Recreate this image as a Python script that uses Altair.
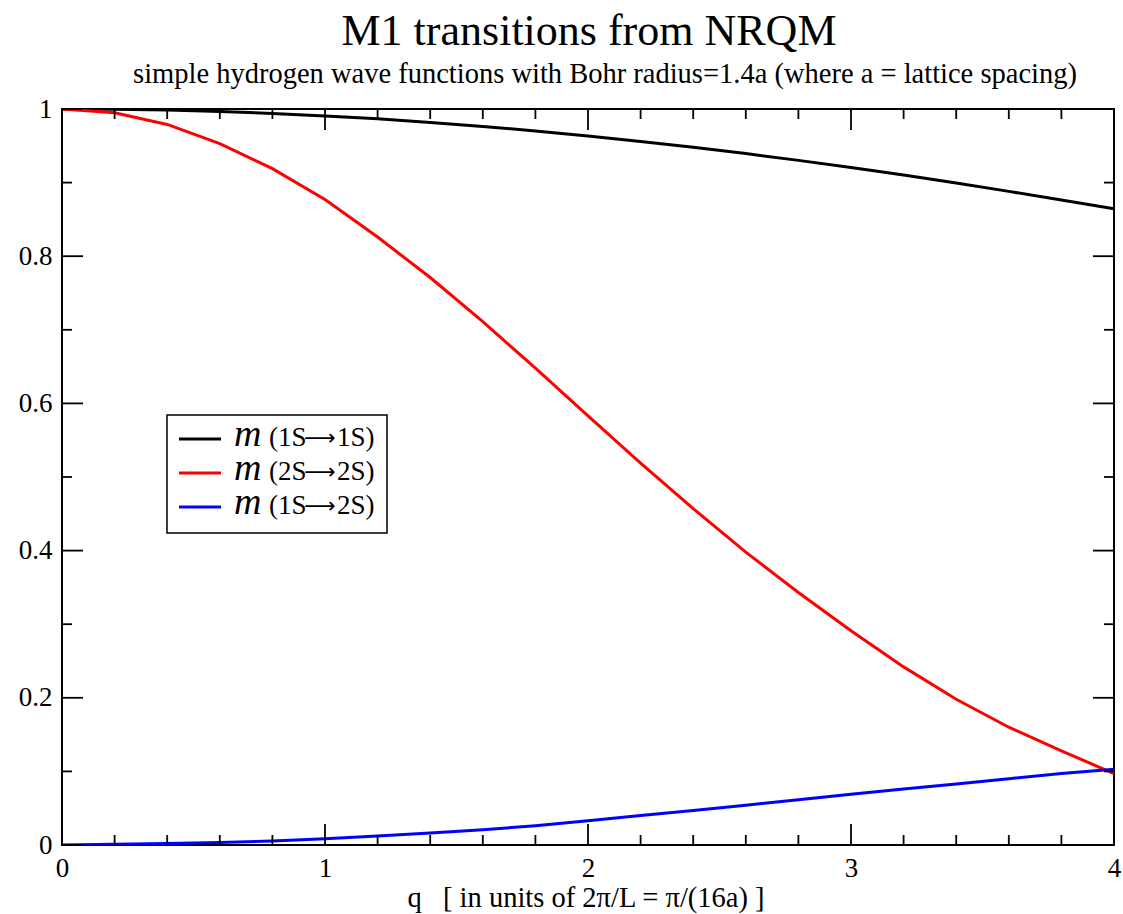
import altair as alt
import pandas as pd

# ---- data ----
q_vals = [0.0, 0.2, 0.4, 0.6, 0.8, 1.0, 1.2, 1.4, 1.6, 1.8, 2.0,
          2.2, 2.4, 2.6, 2.8, 3.0, 3.2, 3.4, 3.6, 3.8, 4.0]
m_1s1s = [1.0, 0.9996, 0.9985, 0.9966, 0.9940, 0.9906, 0.9866, 0.9818, 0.9763, 0.9702, 0.9634,
          0.9560, 0.9480, 0.9394, 0.9302, 0.9205, 0.9102, 0.8994, 0.8881, 0.8764, 0.8643]
m_2s2s = [1.0, 0.995, 0.979, 0.953, 0.919, 0.877, 0.826, 0.771, 0.711, 0.648, 0.583,
          0.519, 0.457, 0.398, 0.343, 0.291, 0.242, 0.198, 0.160, 0.128, 0.097]
m_1s2s = [0.0, 0.0009, 0.0019, 0.0034, 0.0056, 0.0085, 0.0121, 0.0162, 0.0208, 0.0262, 0.033,
          0.040, 0.047, 0.054, 0.0615, 0.069, 0.076, 0.083, 0.090, 0.097, 0.103]

series_from = ["(1S", "(2S", "(1S"]
series_to = ["1S)", "2S)", "2S)"]
series_colors = ["#000000", "#ff0000", "#0000ff"]

x_major = [0, 1, 2, 3, 4]
x_minor = [0.2, 0.4, 0.6, 0.8, 1.2, 1.4, 1.6, 1.8, 2.2, 2.4, 2.6, 2.8,
           3.2, 3.4, 3.6, 3.8]
y_major = [0, 0.2, 0.4, 0.6, 0.8, 1.0]
y_minor = [0.1, 0.3, 0.5, 0.7, 0.9]

TITLE = "M1 transitions from NRQM"
SUBTITLE = "simple hydrogen wave functions with Bohr radius=1.4a (where a = lattice spacing)"
XTITLE = "q\u00a0\u00a0\u00a0[ in units of 2\u03c0/L = \u03c0/(16a) ]"

# ---- layout ----
W, H = 1052, 736
FONT = "Liberation Serif"
MAJ, MIN = 21, 10

xscale = alt.Scale(domain=[0, 4], nice=False, zero=False)
yscale = alt.Scale(domain=[0, 1], nice=False, zero=False)

xaxis = alt.Axis(values=x_major, format="~g", ticks=False, tickSize=0, domain=False,
                 grid=False, labelFont=FONT, labelFontSize=27, labelColor="black",
                 labelPadding=10, labelFlush=False, labelOverlap=False, title=None)
yaxis = alt.Axis(values=y_major, format="~g", ticks=False, tickSize=0, domain=False,
                 grid=False, labelFont=FONT, labelFontSize=27, labelColor="black",
                 labelPadding=10, labelFlush=False, labelOverlap=False, title=None)

X = alt.X("q:Q", scale=xscale, axis=xaxis)
Y = alt.Y("v:Q", scale=yscale, axis=yaxis)

layers = []

# curves
for vals, col in zip([m_1s1s, m_2s2s, m_1s2s], series_colors):
    df = pd.DataFrame({"q": q_vals, "v": vals})
    layers.append(alt.Chart(df).mark_line(color=col, strokeWidth=3, clip=True).encode(x=X, y=Y))

# ticks (inward, mirrored)
xt_maj = pd.DataFrame({"q": x_major})
xt_min = pd.DataFrame({"q": x_minor})
yt_maj = pd.DataFrame({"v": y_major})
yt_min = pd.DataFrame({"v": y_minor})
tick_style = dict(color="black", strokeWidth=1.8)
for d, L in [(xt_maj, MAJ), (xt_min, MIN)]:
    layers.append(alt.Chart(d).mark_rule(**tick_style).encode(x=X, y=alt.value(H), y2=alt.value(H - L)))
    layers.append(alt.Chart(d).mark_rule(**tick_style).encode(x=X, y=alt.value(0), y2=alt.value(L)))
for d, L in [(yt_maj, MAJ), (yt_min, MIN)]:
    layers.append(alt.Chart(d).mark_rule(**tick_style).encode(y=Y, x=alt.value(0), x2=alt.value(L)))
    layers.append(alt.Chart(d).mark_rule(**tick_style).encode(y=Y, x=alt.value(W), x2=alt.value(W - L)))

# legend box
one = pd.DataFrame({"k": [0]})
layers.append(alt.Chart(one).mark_rect(fill="white", stroke="black", strokeWidth=1.5).encode(
    x=alt.value(105), x2=alt.value(325), y=alt.value(306), y2=alt.value(424)))
row_y = [330, 364, 398]
for a, b, col, ry in zip(series_from, series_to, series_colors, row_y):
    layers.append(alt.Chart(one).mark_rule(color=col, strokeWidth=3).encode(
        x=alt.value(117), x2=alt.value(159), y=alt.value(ry)))
    layers.append(alt.Chart(one).mark_text(font=FONT, fontSize=38, fontStyle="italic",
                                            align="left", baseline="alphabetic", color="black").encode(
        x=alt.value(172), y=alt.value(ry + 7), text=alt.value("m")))
    layers.append(alt.Chart(one).mark_text(font=FONT, fontSize=27,
                                            align="left", baseline="alphabetic", color="black").encode(
        x=alt.value(207), y=alt.value(ry + 7), text=alt.value(a)))
    layers.append(alt.Chart(one).mark_text(font="DejaVu Sans", fontSize=22,
                                            align="center", baseline="middle", color="black").encode(
        x=alt.value(258), y=alt.value(ry - 1), text=alt.value("\u27f6")))
    layers.append(alt.Chart(one).mark_text(font=FONT, fontSize=27,
                                            align="left", baseline="alphabetic", color="black").encode(
        x=alt.value(275), y=alt.value(ry + 7), text=alt.value(b)))

# titles
layers.append(alt.Chart(one).mark_text(font=FONT, fontSize=44, align="center",
                                        baseline="alphabetic", color="black").encode(
    x=alt.value(527), y=alt.value(-64), text=alt.value(TITLE)))
layers.append(alt.Chart(one).mark_text(font=FONT, fontSize=28.5, align="center",
                                        baseline="alphabetic", color="black").encode(
    x=alt.value(543), y=alt.value(-26), text=alt.value(SUBTITLE)))
layers.append(alt.Chart(one).mark_text(font=FONT, fontSize=28.5, align="center",
                                        baseline="alphabetic", color="black").encode(
    x=alt.value(524), y=alt.value(H + 62), text=alt.value(XTITLE)))

chart = alt.layer(*layers).properties(
    width=W, height=H,
    autosize=alt.AutoSizeParams(type="none"),
    padding={"left": 62, "top": 109, "right": 9, "bottom": 69},
    background="white",
).configure_view(stroke="black", strokeWidth=2)

chart.save("out.html", embed_options={"renderer": "svg", "actions": False})
